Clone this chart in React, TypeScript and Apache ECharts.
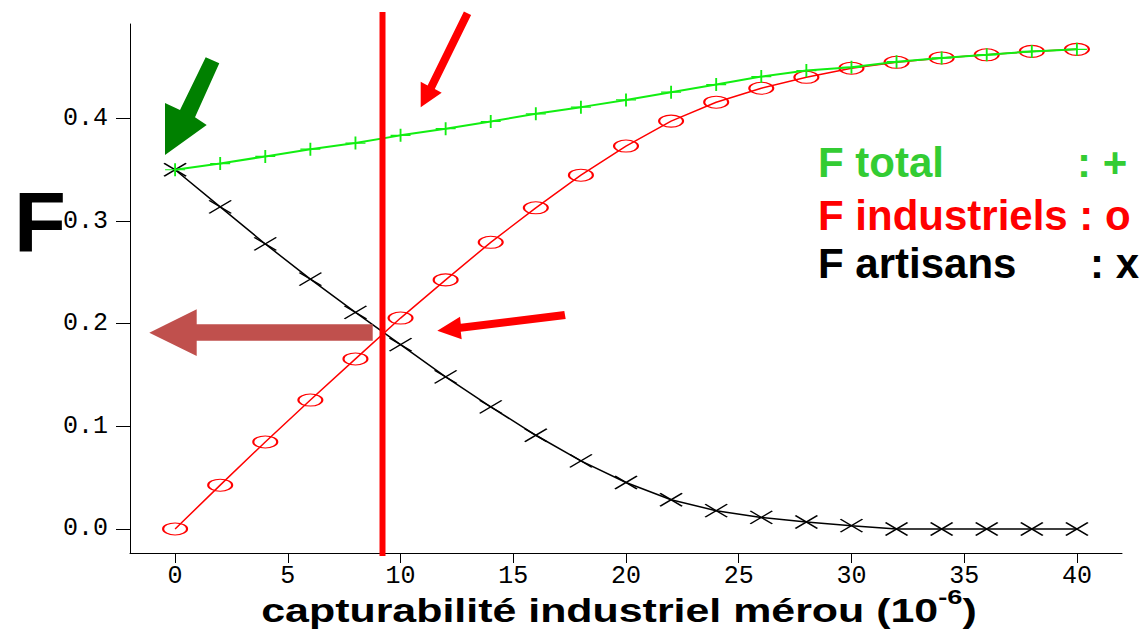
import React, { useEffect, useRef } from "react";
import * as echarts from "echarts";

// Capturabilité industrielle du mérou (10^-6) sampled every 2 units
const CAPTURABILITE = [0, 2, 4, 6, 8, 10, 12, 14, 16, 18, 20, 22, 24, 26, 28, 30, 32, 34, 36, 38, 40];

// Fishing mortality F per fleet
const F_TOTAL = [
  0.35, 0.356, 0.363, 0.37, 0.376, 0.3835, 0.39, 0.397, 0.4045, 0.411, 0.418,
  0.4256, 0.433, 0.4408, 0.4466, 0.4498, 0.4553, 0.4589, 0.462, 0.4653, 0.4673,
];
const F_INDUSTRIELS = [
  0, 0.0427, 0.0848, 0.1256, 0.1657, 0.2055, 0.2427, 0.2793, 0.3129, 0.3447, 0.3731,
  0.3974, 0.4158, 0.4294, 0.4401, 0.4489, 0.4547, 0.4589, 0.462, 0.4653, 0.4673,
];
const F_ARTISANS = [
  0.35, 0.3139, 0.2777, 0.2434, 0.211, 0.1796, 0.1482, 0.119, 0.0913, 0.0663, 0.0453,
  0.0285, 0.0178, 0.0113, 0.0068, 0.0032, 0, 0, 0, 0, 0,
];

// Tick values shown on each axis
const X_TICKS = [0, 5, 10, 15, 20, 25, 30, 35, 40];
const Y_TICKS = [0, 0.1, 0.2, 0.3, 0.4];

// Capturability where industrial and artisanal F are equal
const CROSSING_X = 9.2;

const TICK_FONT = "'Liberation Mono', 'DejaVu Sans Mono', monospace";
const BOLD_FONT = "'Liberation Sans', Arial, Helvetica, sans-serif";

const pairs = (ys: number[]) => CAPTURABILITE.map((x, i) => [x, ys[i]]);

const PLUS = "path://M0,6 L20,6 M10,0 L10,12";
const CROSS = "path://M0,0 L22,13 M0,13 L22,0";
const OVAL = "path://M0,6 A12,6 0 1,0 24,6 A12,6 0 1,0 0,6 Z";

export default function App() {
  const ref = useRef<HTMLDivElement>(null);

  useEffect(() => {
    if (!ref.current) return;
    const chart = echarts.init(ref.current, null, { renderer: "svg" });

    const option: any = {
      animation: false,
      backgroundColor: "#ffffff",
      grid: { left: 130, top: 24, right: 20, bottom: 82 },
      xAxis: {
        type: "value",
        min: -2,
        max: 42,
        splitLine: { show: false },
        axisLine: { show: true, onZero: false, lineStyle: { color: "#000", width: 1 } },
        axisTick: { show: true, length: 10, customValues: X_TICKS, lineStyle: { color: "#000" } },
        axisLabel: {
          customValues: X_TICKS,
          margin: 11,
          color: "#000",
          fontFamily: TICK_FONT,
          fontSize: 25,
        },
      },
      yAxis: {
        type: "value",
        min: -0.0234,
        max: 0.492,
        splitLine: { show: false },
        axisLine: { show: true, onZero: false, lineStyle: { color: "#000", width: 1 } },
        axisTick: { show: true, length: 14, customValues: Y_TICKS, lineStyle: { color: "#000" } },
        axisLabel: {
          customValues: Y_TICKS,
          margin: 22,
          color: "#000",
          fontFamily: TICK_FONT,
          fontSize: 25,
          formatter: (v: number) => v.toFixed(1),
        },
      },
      series: [
        {
          name: "F artisans",
          type: "line",
          data: pairs(F_ARTISANS),
          symbol: CROSS,
          symbolSize: [22, 13],
          lineStyle: { color: "#000", width: 1.5 },
          itemStyle: { color: "transparent", borderColor: "#000", borderWidth: 1.5 },
          z: 2,
        },
        {
          name: "F industriels",
          type: "line",
          data: pairs(F_INDUSTRIELS),
          symbol: OVAL,
          symbolSize: [24, 12],
          lineStyle: { color: "#ff0000", width: 1.5 },
          itemStyle: { color: "transparent", borderColor: "#ff0000", borderWidth: 1.5 },
          z: 3,
        },
        {
          name: "F total",
          type: "line",
          data: pairs(F_TOTAL),
          symbol: PLUS,
          symbolSize: [20, 13],
          lineStyle: { color: "#11ee11", width: 2 },
          itemStyle: { color: "transparent", borderColor: "#11ee11", borderWidth: 1.5 },
          z: 4,
        },
      ],
    };
    chart.setOption(option);

    const cutX = chart.convertToPixel({ xAxisIndex: 0 }, CROSSING_X) as number;

    const legendText = (text: string, x: number, y: number, fill: string) => ({
      type: "text",
      x,
      y,
      style: {
        text,
        fill,
        font: `bold 42px ${BOLD_FONT}`,
        textVerticalAlign: "middle",
      },
      z: 20,
    });

    chart.setOption({
      graphic: [
        // vertical cut at the crossing point
        {
          type: "line",
          shape: { x1: cutX, y1: 12, x2: cutX, y2: 556 },
          style: { stroke: "#ff0000", lineWidth: 6 },
          z: 10,
        },
        // green arrow pointing at F total at zero capturability
        {
          type: "polygon",
          shape: {
            points: [
              [205.7, 57.3], [219.3, 63.3], [195, 117.3], [206.7, 125],
              [165, 155], [165, 103], [180, 110],
            ],
          },
          style: { fill: "#008000" },
          z: 10,
        },
        // red arrow toward the top of the cut line
        {
          type: "polygon",
          shape: {
            points: [
              [463.9, 11.5], [471.1, 15.1], [434.8, 89.0], [441.7, 92.7],
              [420.7, 107.3], [420.7, 81.7], [427.6, 85.4],
            ],
          },
          style: { fill: "#ff0000" },
          z: 10,
        },
        // red arrow toward the crossing point
        {
          type: "polygon",
          shape: {
            points: [
              [564.3, 311], [565.7, 319], [460.8, 331.8], [461.7, 339.3],
              [437.3, 330.7], [460, 316.7], [460.8, 323.8],
            ],
          },
          style: { fill: "#ff0000" },
          z: 10,
        },
        // brown arrow toward the F axis
        {
          type: "polygon",
          shape: {
            points: [
              [372.7, 324.3], [372.7, 340.7], [196.7, 340.7], [196.7, 356],
              [149.3, 332.7], [196.7, 309.3], [196.7, 324.3],
            ],
          },
          style: { fill: "#c0504d" },
          z: 10,
        },
        // big axis name
        {
          type: "text",
          x: 14,
          y: 222,
          style: {
            text: "F",
            fill: "#000",
            font: `bold 85px ${BOLD_FONT}`,
            textVerticalAlign: "middle",
          },
          z: 20,
        },
        legendText("F total", 818, 162, "#33cc33"),
        legendText(": +", 1077, 162, "#33cc33"),
        legendText("F industriels : o", 818, 215, "#ff0000"),
        legendText("F artisans", 818, 263, "#000"),
        legendText(": x", 1090, 263, "#000"),
        // x axis title with superscript exponent
        {
          type: "text",
          x: 619,
          y: 610,
          scaleX: 1.3,
          style: {
            text: "{a|capturabilité industriel mérou (10}{b|-6}{a|)}",
            align: "center",
            verticalAlign: "middle",
            rich: {
              a: {
                fontFamily: BOLD_FONT,
                fontWeight: "bold",
                fontSize: 33,
                lineHeight: 48,
                fill: "#000",
              },
              b: {
                fontFamily: BOLD_FONT,
                fontWeight: "bold",
                fontSize: 21,
                lineHeight: 21,
                verticalAlign: "top",
                fill: "#000",
              },
            },
          },
          z: 20,
        },
      ],
    });

    return () => chart.dispose();
  }, []);

  return (
    <div
      ref={ref}
      style={{ position: "fixed", left: 0, top: 0, width: 1142, height: 635 }}
    />
  );
}
